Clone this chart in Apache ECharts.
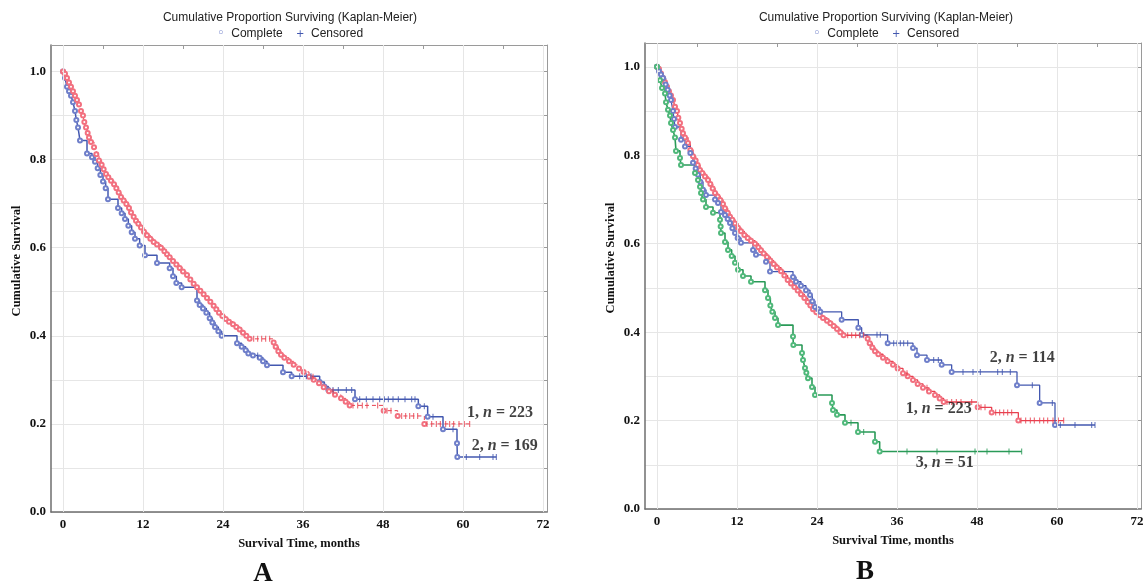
<!DOCTYPE html>
<html><head><meta charset="utf-8">
<script src="https://cdn.jsdelivr.net/npm/echarts@6/dist/echarts.min.js"></script>
<style>html,body{margin:0;padding:0;background:#fff}#c{width:1147px;height:586px}</style>
</head><body><div id="c"></div>
<script>
// ---- data ----
const xTickMonths = [0, 12, 24, 36, 48, 60, 72];
const xMinorTicks = [0, 6, 12, 18, 24, 30, 36, 42, 48, 54, 60, 66, 72];
const yTickLabels = ['0.0', '0.2', '0.4', '0.6', '0.8', '1.0'];

// Group 1 (n = 223) — events [month, survival]
const g1Events = [[0,1],[0.3,0.995],[0.6,0.985],[0.9,0.975],[1.2,0.965],[1.5,0.955],[1.8,0.945],[2.1,0.935],[2.4,0.925],[2.7,0.91],[3.0,0.9],[3.2,0.885],[3.45,0.873],[3.7,0.86],[3.9,0.85],[4.2,0.84],[4.65,0.828],[5.0,0.812],[5.4,0.798],[5.8,0.788],[6.1,0.778],[6.45,0.767],[6.8,0.76],[7.2,0.752],[7.65,0.744],[8.0,0.735],[8.35,0.725],[8.7,0.715],[9.1,0.707],[9.5,0.699],[9.9,0.69],[10.2,0.68],[10.6,0.67],[10.95,0.661],[11.3,0.654],[11.7,0.646],[12.15,0.636],[12.6,0.628],[13.1,0.62],[13.6,0.613],[14.1,0.607],[14.7,0.6],[15.2,0.592],[15.6,0.585],[16.0,0.578],[16.5,0.57],[17.0,0.562],[17.5,0.554],[18.0,0.546],[18.6,0.538],[19.1,0.528],[19.6,0.518],[20.1,0.51],[20.6,0.502],[21.1,0.494],[21.6,0.486],[22.1,0.477],[22.6,0.468],[23.0,0.46],[23.4,0.452],[23.9,0.445],[24.4,0.438],[24.9,0.432],[25.5,0.426],[26.0,0.42],[26.5,0.414],[27.0,0.407],[27.5,0.4],[28.0,0.393],[31.6,0.385],[31.9,0.375],[32.3,0.365],[32.7,0.357],[33.2,0.35],[33.9,0.342],[34.6,0.334],[35.4,0.326],[36.1,0.318],[36.9,0.307],[37.6,0.3],[38.4,0.292],[39.1,0.283],[39.9,0.274],[40.8,0.266],[41.7,0.258],[42.4,0.25],[43.0,0.242],[48.1,0.23],[50.2,0.218],[54.2,0.2]];
const g1Censored = [28.6,29.2,29.8,30.4,31.0,37.5,40.5,43.5,44.2,44.9,45.6,47.2,48.6,49.2,50.8,51.4,52.0,52.6,53.2,54.6,55.3,56.0,56.6,57.4,58.0,58.6,59.4,60.2,61.0];
const g1End = 61;

// Panel A, group 2 (n = 169)
const a2Events = [[0,1],[0.3,0.985],[0.6,0.965],[0.9,0.955],[1.2,0.945],[1.5,0.93],[1.8,0.91],[2.0,0.89],[2.25,0.873],[2.55,0.843],[3.6,0.814],[4.35,0.805],[4.8,0.795],[5.2,0.78],[5.6,0.765],[6.0,0.75],[6.4,0.735],[6.75,0.71],[8.25,0.69],[8.8,0.678],[9.3,0.665],[9.8,0.65],[10.3,0.635],[10.8,0.62],[11.5,0.605],[12.3,0.583],[14.1,0.565],[16.0,0.553],[16.5,0.535],[17.0,0.52],[17.8,0.51],[20.1,0.48],[20.5,0.47],[21.0,0.462],[21.5,0.452],[22.0,0.44],[22.4,0.43],[22.8,0.42],[23.3,0.41],[23.8,0.4],[26.1,0.383],[26.8,0.375],[27.4,0.367],[27.8,0.36],[28.5,0.355],[29.5,0.35],[30.0,0.342],[30.6,0.333],[33.0,0.317],[34.3,0.308],[38.5,0.295],[39.2,0.285],[39.8,0.277],[43.8,0.256],[53.3,0.24],[54.7,0.216],[57.0,0.188],[59.1,0.156],[59.15,0.125]];
const a2Censored = [29.2,35.5,36.5,37.2,40.5,41.3,42.5,43.3,44.5,45.5,46.5,47.5,48.2,48.8,49.5,50.3,51.3,52.3,52.8,54.2,55.5,58.5,60.5,62.5,64.5,65.0];
const a2End = 65;

// Panel B, group 2 (n = 114)
const b2Events = [[0,1],[0.3,0.99],[0.6,0.983],[0.9,0.975],[1.3,0.96],[1.6,0.948],[1.9,0.935],[2.1,0.925],[2.4,0.9],[2.55,0.882],[2.7,0.864],[3.6,0.835],[4.2,0.82],[5.0,0.805],[5.4,0.783],[5.8,0.77],[6.15,0.756],[6.5,0.74],[6.9,0.722],[7.35,0.71],[8.7,0.7],[9.15,0.692],[9.6,0.672],[10.2,0.665],[10.6,0.656],[10.95,0.647],[11.3,0.635],[11.7,0.624],[12.1,0.613],[12.6,0.602],[14.4,0.586],[14.85,0.575],[16.35,0.559],[16.95,0.537],[20.4,0.525],[20.85,0.514],[21.6,0.505],[22.35,0.495],[22.95,0.484],[23.3,0.47],[23.7,0.457],[24.2,0.452],[24.5,0.446],[27.7,0.428],[30.2,0.41],[30.7,0.394],[34.6,0.375],[38.4,0.364],[39.0,0.348],[40.5,0.337],[42.7,0.326],[44.2,0.31],[54.0,0.28],[57.4,0.24],[59.7,0.19]];
const b2Censored = [33.0,33.5,35.5,36.0,36.5,37.0,37.6,41.5,42.2,45.9,47.4,48.5,51.1,51.8,53.0,56.3,59.3,60.5,62.7,65.2,65.7];
const b2End = 65.7;

// Panel B, group 3 (n = 51)
const b3Events = [[0,1],[0.45,0.97],[0.75,0.952],[1.2,0.94],[1.35,0.92],[1.65,0.903],[1.95,0.89],[2.1,0.873],[2.4,0.857],[2.7,0.84],[2.85,0.81],[3.45,0.794],[3.6,0.778],[5.7,0.76],[6.15,0.744],[6.45,0.729],[6.6,0.715],[6.9,0.7],[7.35,0.683],[8.4,0.67],[9.45,0.654],[9.55,0.639],[9.6,0.624],[10.2,0.604],[10.65,0.586],[11.2,0.572],[11.7,0.557],[12.15,0.541],[12.9,0.527],[14.1,0.514],[16.2,0.495],[16.65,0.477],[17.0,0.46],[17.3,0.446],[17.7,0.432],[18.15,0.416],[20.4,0.39],[20.45,0.371],[21.75,0.353],[21.9,0.337],[22.2,0.319],[22.4,0.308],[22.65,0.296],[23.25,0.276],[23.7,0.258],[26.25,0.24],[26.4,0.224],[27.0,0.213],[28.2,0.195],[30.15,0.174],[32.7,0.152],[33.4,0.13]];
const b3Censored = [29.1,31.0,37.5,42.0,47.7,49.5,52.8,54.7];
const b3End = 54.7;

// curve labels: [month, survival, group, n]
const labelsA = [[60.6, 0.224, '1', '223'], [61.3, 0.150, '2', '169']];
const labelsB = [[49.9, 0.342, '2', '114'], [37.3, 0.226, '1', '223'], [38.8, 0.104, '3', '51']];

// ---- styles ----
const RED = '#e8404f', RED_M = '#f2707f';
const BLUE = '#4358b0', BLUE_M = '#6f7fca';
const GREEN = '#2a9a58', GREEN_M = '#4fb87a';
const SERIF = '"Liberation Serif", "Times New Roman", serif';
const SANS = '"Liberation Sans", Arial, sans-serif';
const GRID = '#e6e6e6';

function levelAt(events, t) {
  let s = events[0][1];
  for (const e of events) { if (e[0] <= t) s = e[1]; }
  return s;
}
function km(events, censored, endT, color, mcolor, width, dash, gi) {
  const last = events[events.length - 1][1];
  const data = events.map(e => ({ value: e }));
  data.push({ value: [endT, last], symbol: 'none' });
  return [{
    type: 'line', xAxisIndex: gi * 2, yAxisIndex: gi * 2, step: 'end', data,
    symbol: 'emptyCircle', symbolSize: 4, z: 3, silent: true, animation: false,
    itemStyle: { color: mcolor, borderColor: mcolor, borderWidth: 0.9 },
    lineStyle: { color, width, type: dash ? [4, 3] : 'solid' }
  }, {
    type: 'scatter', xAxisIndex: gi * 2, yAxisIndex: gi * 2, z: 4, silent: true, animation: false,
    data: censored.map(t => [t, levelAt(events, t)]),
    symbol: 'rect', symbolSize: [1.1, 6], itemStyle: { color }
  }];
}
function gridSeries(gi) {
  return {
    type: 'line', xAxisIndex: gi * 2, yAxisIndex: gi * 2, data: [[0, 0]], showSymbol: false, z: 1,
    lineStyle: { opacity: 0 }, silent: true, animation: false,
    markLine: { silent: true, symbol: ['none', 'none'], label: { show: false }, animation: false,
      lineStyle: { color: GRID, type: 'solid', width: 1 },
      data: xTickMonths.map(v => ({ xAxis: v })) }
  };
}
function labelSeries(labels, gi) {
  return {
    type: 'scatter', xAxisIndex: gi * 2, yAxisIndex: gi * 2, symbolSize: 0, z: 5, silent: true, animation: false,
    data: labels.map(l => ({ value: [l[0], l[1]], name: l[2] + '|' + l[3] })),
    label: { show: true, position: 'right', distance: 0,
      formatter: p => { const [g, n] = p.name.split('|'); return '{b|' + g + ', }{i|n}{b| = ' + n + '}'; },
      rich: {
        b: { fontFamily: SERIF, fontWeight: 'bold', fontSize: 16, color: '#111' },
        i: { fontFamily: SERIF, fontWeight: 'bold', fontStyle: 'italic', fontSize: 16, color: '#111' }
      } }
  };
}
function yFmt(v) {
  const k = Math.round(v * 10);
  if (Math.abs(v * 10 - k) > 1e-6 || k % 2 !== 0 || k > 10) return '';
  return yTickLabels[k / 2];
}

const grids = [
  { left: 51, top: 45, width: 496, height: 467 },
  { left: 645, top: 43, width: 496, height: 466 }
];
const yMax = [1.06, 1.054];

const xAxes = [], yAxes = [];
grids.forEach((g, gi) => {
  xAxes.push({
    type: 'value', gridIndex: gi, position: 'bottom', min: -1.8, max: 72.6,
    axisLine: { show: true, onZero: false, lineStyle: { color: '#6e6e6e', width: 1.5 } },
    axisTick: { show: false },
    axisLabel: { customValues: xTickMonths, fontFamily: SERIF, fontWeight: 'bold', fontSize: 13, color: '#111', margin: 6 },
    splitLine: { show: false },
    name: 'Survival Time, months', nameLocation: 'middle', nameGap: 25,
    nameTextStyle: { fontFamily: SERIF, fontWeight: 'bold', fontSize: 12.5, color: '#111' }
  });
  xAxes.push({
    type: 'value', gridIndex: gi, position: 'top', min: -1.8, max: 72.6,
    axisLine: { show: true, onZero: false, lineStyle: { color: '#9a9a9a', width: 1 } },
    axisTick: { show: true, inside: true, length: 4, customValues: xMinorTicks, lineStyle: { color: '#9a9a9a' } },
    axisLabel: { show: false }, splitLine: { show: false }
  });
  yAxes.push({
    type: 'value', gridIndex: gi, position: 'left', min: 0, max: yMax[gi], interval: 0.1,
    axisLine: { show: true, onZero: false, lineStyle: { color: '#6e6e6e', width: 1.5 } },
    axisTick: { show: false },
    axisLabel: { formatter: yFmt, fontFamily: SERIF, fontWeight: 'bold', fontSize: 13, color: '#111', margin: 5 },
    splitLine: { show: true, lineStyle: { color: GRID, width: 1 } }
  });
  yAxes.push({
    type: 'value', gridIndex: gi, position: 'right', min: 0, max: yMax[gi], interval: 0.1,
    axisLine: { show: true, onZero: false, lineStyle: { color: '#9a9a9a', width: 1 } },
    axisTick: { show: true, inside: true, length: 4, lineStyle: { color: '#9a9a9a' } },
    axisLabel: { show: false }, splitLine: { show: false }
  });
});

const series = [
  gridSeries(0), gridSeries(1),
  ...km(a2Events, a2Censored, a2End, BLUE, BLUE_M, 1.5, false, 0),
  ...km(g1Events, g1Censored, g1End, RED, RED_M, 1, true, 0),
  ...km(g1Events, g1Censored, g1End, RED, RED_M, 1.3, false, 1),
  ...km(b2Events, b2Censored, b2End, BLUE, BLUE_M, 1.3, false, 1),
  ...km(b3Events, b3Censored, b3End, GREEN, GREEN_M, 1.6, false, 1),
  labelSeries(labelsA, 0), labelSeries(labelsB, 1)
];

function headerTexts(cx) {
  return [
    { type: 'text', x: cx, y: 18, style: { text: 'Cumulative Proportion Surviving (Kaplan-Meier)', font: '12px ' + SANS, fill: '#222', align: 'center', verticalAlign: 'middle' } },
    { type: 'text', x: cx, y: 34, style: { text: '{m|\u25E6}  Complete    {p|+}  Censored', font: '12px ' + SANS, fill: '#222', align: 'center', verticalAlign: 'middle',
      rich: { m: { fontFamily: '"DejaVu Sans", sans-serif', fontSize: 13, fill: '#6c7cc8' },
              p: { fontFamily: '"DejaVu Sans", sans-serif', fontSize: 10, fill: '#4358b0' } } } }
  ];
}
const graphic = [
  ...headerTexts(290), ...headerTexts(886),
  { type: 'text', x: 17, y: 261, rotation: Math.PI / 2, style: { text: 'Cumulative Survival', font: 'bold 12.5px ' + SERIF, fill: '#111', align: 'center', verticalAlign: 'middle' } },
  { type: 'text', x: 611, y: 258, rotation: Math.PI / 2, style: { text: 'Cumulative Survival', font: 'bold 12.5px ' + SERIF, fill: '#111', align: 'center', verticalAlign: 'middle' } },
  { type: 'text', x: 263, y: 574, style: { text: 'A', font: 'bold 27px ' + SERIF, fill: '#111', align: 'center', verticalAlign: 'middle' } },
  { type: 'text', x: 865, y: 572, style: { text: 'B', font: 'bold 27px ' + SERIF, fill: '#111', align: 'center', verticalAlign: 'middle' } }
];

const chart = echarts.init(document.getElementById('c'), null, { renderer: 'canvas' });
chart.setOption({
  animation: false,
  backgroundColor: '#fff',
  grid: grids,
  xAxis: xAxes,
  yAxis: yAxes,
  series,
  graphic
});
</script></body></html>
